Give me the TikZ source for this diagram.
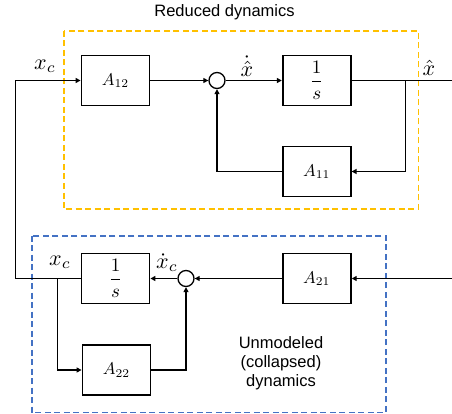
\RequirePackage{fix-cm}
\documentclass[tikz,border=0pt]{standalone}
\usepackage{fontspec}
\setmainfont{Liberation Sans}
\usetikzlibrary{arrows.meta}
\definecolor{korange}{HTML}{FFC000}
\definecolor{kblue}{HTML}{4472C4}
\newcommand\mysc[2]{\scalebox{#1}{$#2$}}
\begin{document}
\begin{tikzpicture}[x=1pt,y=-1pt,
  blk/.style={draw,line width=1.8pt,minimum width=68pt,minimum height=50pt,inner sep=0pt},
  sumc/.style={draw,circle,line width=1.3pt,minimum size=16pt,inner sep=0pt},
  con/.style={line width=1.5pt},
  arr/.style={con,-{Triangle[length=5pt,width=5pt]}},
  grp/.style={dashed,line width=1.6pt,dash pattern=on 6pt off 3.5pt},
  sig/.style={inner sep=0pt},
  lbl/.style={font=\fontsize{16.5}{20}\selectfont,align=center,inner sep=0pt}]
\useasboundingbox (0,0) rectangle (452,414);
% group boxes
\draw[grp,korange] (63.7,31) rectangle (418.5,209);
\draw[grp,kblue] (31.7,235.7) rectangle (386,412.5);
\node[lbl] (tred) at (224.5,12) {Reduced dynamics};
\node[lbl] (tunm) at (281,363) {Unmodeled\\[-1pt](collapsed)\\[-1pt]dynamics};
% blocks
\node[blk] (A12) at (115.5,80.5) {\mysc{1.7}{A_{12}}};
\node[blk] (S1) at (316.7,80.5) {\mysc{1.9}{\displaystyle\frac{1}{s}}};
\node[blk] (A11) at (316.7,171.5) {\mysc{1.7}{A_{11}}};
\node[sumc] (sum1) at (217,80.5) {};
\node[blk] (S2) at (115.5,278.5) {\mysc{1.9}{\displaystyle\frac{1}{s}}};
\node[blk] (A21) at (316.8,278.5) {\mysc{1.7}{A_{21}}};
\node[blk] (A22) at (116.5,370) {\mysc{1.7}{A_{22}}};
\node[sumc] (sum2) at (186,278.5) {};
% coordinates
\coordinate (c1) at (15.7,278.5);
\coordinate (fb) at (405.7,80.5);
\coordinate (out1) at (452,80.5);
\coordinate (in2) at (452,278.5);
\coordinate (br) at (57.3,278.5);
% connectors
\draw[arr] (S2.west) -- (c1) |- (A12.west);
\draw[arr] (A12.east) -- (sum1.west);
\draw[arr] (sum1.east) -- (S1.west);
\draw[con] (S1.east) -- (out1);
\draw[arr] (fb) |- (A11.east);
\draw[arr] (A11.west) -| (sum1.south);
\draw[arr] (in2) -- (A21.east);
\draw[arr] (A21.west) -- (sum2.east);
\draw[arr] (sum2.west) -- (S2.east);
\draw[arr] (br) |- (A22.west);
\draw[arr] (A22.east) -| (sum2.south);
% signal labels
\node[sig] (lxc1) at (45,66) {\mysc{2.2}{x_c}};
\node[sig] (lxd) at (247,66) {\mysc{2.2}{\dot{\hat{x}}}};
\node[sig] (lxh) at (429,68) {\mysc{2.2}{\hat{x}}};
\node[sig] (lxc2) at (60,262) {\mysc{2.2}{x_c}};
\node[sig] (lxdc) at (167,263) {\mysc{2.2}{\dot{x}_c}};
\end{tikzpicture}
\end{document}
